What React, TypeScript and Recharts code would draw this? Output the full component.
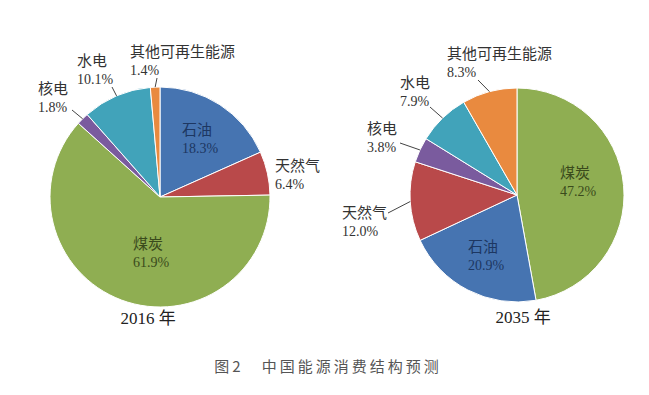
import React from "react";
import { PieChart, Pie, Cell } from "recharts";

const names2016 = ["石油", "天然气", "煤炭", "核电", "水电", "其他可再生能源"];
const values2016 = [18.3, 6.4, 61.9, 1.8, 10.1, 1.4];

const names2035 = ["煤炭", "石油", "天然气", "核电", "水电", "其他可再生能源"];
const values2035 = [47.2, 20.9, 12.0, 3.8, 7.9, 8.3];

const yearLabels = ["2016 年", "2035 年"];
const caption = "图2　中国能源消费结构预测";

const COLORS: Record<string, string> = {
  煤炭: "#8fae52",
  石油: "#4674b1",
  天然气: "#b9494a",
  核电: "#7a5b9e",
  水电: "#41a3ba",
  其他可再生能源: "#e98a3f",
};

const INNER_TEXT: Record<string, string> = {
  石油: "#1d3762",
  煤炭: "#3a4a1c",
};

// label block offsets from the pie centre; lead = start of leader line
type Place = { dx: number; dy: number; lead?: [number, number] };

const place2016: Record<string, Place> = {
  石油: { dx: 22, dy: -67 },
  天然气: { dx: 115, dy: -31 },
  煤炭: { dx: -27, dy: 47 },
  核电: { dx: -122, dy: -108, lead: [-88, -87] },
  水电: { dx: -83, dy: -136, lead: [-48, -110] },
  其他可再生能源: { dx: -30, dy: -145, lead: [-3, -119] },
};

const place2035: Record<string, Place> = {
  煤炭: { dx: 43, dy: -22 },
  石油: { dx: -49, dy: 52 },
  天然气: { dx: -175, dy: 18, lead: [-129, 18] },
  核电: { dx: -150, dy: -66, lead: [-117, -52] },
  水电: { dx: -117, dy: -112, lead: [-87, -88] },
  其他可再生能源: { dx: -70, dy: -141, lead: [-39, -115] },
};

const toRows = (names: string[], values: number[]) =>
  names.map((name, i) => ({ name, value: values[i] }));

const FONT = '"Liberation Serif", "Noto Sans CJK SC", serif';
const RAD = Math.PI / 180;

const makeLabel = (places: Record<string, Place>) => (props: any) => {
  const { cx, cy, midAngle, outerRadius, name, value } = props;
  const p = places[name];
  if (!p) return null;
  const x = cx + p.dx;
  const y = cy + p.dy;
  const fill = INNER_TEXT[name] || "#333";
  let line = null;
  if (p.lead) {
    const ex = cx + outerRadius * Math.cos(-midAngle * RAD);
    const ey = cy + outerRadius * Math.sin(-midAngle * RAD);
    line = (
      <line
        x1={cx + p.lead[0]}
        y1={cy + p.lead[1]}
        x2={ex}
        y2={ey}
        stroke="#444"
        strokeWidth={1}
      />
    );
  }
  return (
    <g>
      {line}
      <text x={x} y={y} fill={fill} fontSize={15} fontFamily={FONT} dominantBaseline="central">
        {name}
      </text>
      <text x={x} y={y + 18} fill={fill} fontSize={14} fontFamily={FONT} dominantBaseline="central">
        {value.toFixed(1)}%
      </text>
    </g>
  );
};

export default function App() {
  const d2016 = toRows(names2016, values2016);
  const d2035 = toRows(names2035, values2035);
  return (
    <div style={{ width: 649, height: 395, position: "relative", background: "#fff", margin: -8 }}>
      <PieChart width={649} height={395}>
        <Pie
          data={d2016}
          dataKey="value"
          nameKey="name"
          cx={155}
          cy={192}
          outerRadius={110}
          startAngle={90}
          endAngle={-270}
          stroke="#fff"
          strokeWidth={1}
          label={makeLabel(place2016)}
          labelLine={false}
          isAnimationActive={false}
        >
          {d2016.map((d) => (
            <Cell key={d.name} fill={COLORS[d.name]} />
          ))}
        </Pie>
        <Pie
          data={d2035}
          dataKey="value"
          nameKey="name"
          cx={512}
          cy={190}
          outerRadius={107}
          startAngle={90}
          endAngle={-270}
          stroke="#fff"
          strokeWidth={1}
          label={makeLabel(place2035)}
          labelLine={false}
          isAnimationActive={false}
        >
          {d2035.map((d) => (
            <Cell key={d.name} fill={COLORS[d.name]} />
          ))}
        </Pie>
        <text x={148} y={318} textAnchor="middle" dominantBaseline="central" fontSize={17} fontFamily={FONT} fill="#222">
          {yearLabels[0]}
        </text>
        <text x={523} y={317} textAnchor="middle" dominantBaseline="central" fontSize={17} fontFamily={FONT} fill="#222">
          {yearLabels[1]}
        </text>
        <text x={328} y={365} textAnchor="middle" dominantBaseline="central" fontSize={15} letterSpacing={3} fontFamily='"Noto Sans CJK SC", sans-serif' fill="#555">
          {caption}
        </text>
      </PieChart>
    </div>
  );
}
